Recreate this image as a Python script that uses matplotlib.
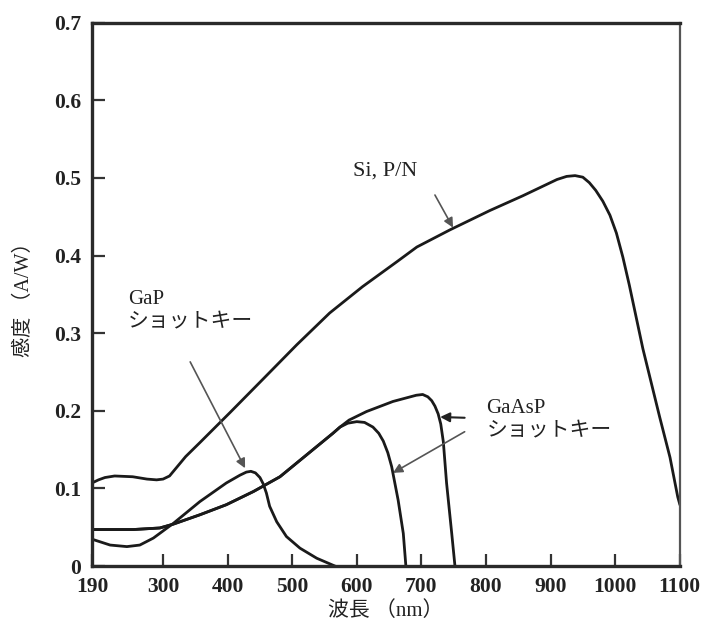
import matplotlib
matplotlib.use('Agg')
import matplotlib.pyplot as plt

# wavelength (nm) / responsivity (A/W)
si_x = [190, 200, 210, 225, 253, 275, 290, 300, 310, 320, 335, 357, 404, 455, 507, 558,
        609, 662, 693, 744, 806, 857, 910, 925, 938, 950, 960, 970, 981, 992, 1002, 1012,
        1022, 1043, 1069, 1085, 1097, 1100]
si_y = [0.107, 0.111, 0.114, 0.116, 0.115, 0.112, 0.111, 0.112, 0.116, 0.126, 0.141, 0.159,
        0.198, 0.241, 0.285, 0.326, 0.360, 0.392, 0.411, 0.433, 0.458, 0.477, 0.498, 0.502,
        0.503, 0.501, 0.494, 0.484, 0.470, 0.452, 0.429, 0.398, 0.362, 0.280, 0.192, 0.140,
        0.089, 0.080]

gap_x = [192, 218, 244, 264, 285, 316, 357, 398, 419, 429, 436, 443, 450, 455, 460, 465,
         476, 491, 512, 538, 566]
gap_y = [0.034, 0.027, 0.025, 0.027, 0.036, 0.055, 0.083, 0.107, 0.117, 0.121, 0.122,
         0.120, 0.114, 0.106, 0.094, 0.077, 0.057, 0.038, 0.023, 0.010, 0.0]

# GaAsP: shared rise, then two branches
gaasp_x = [190, 254, 295, 316, 357, 398, 440, 481, 522, 563, 574]
gaasp_y = [0.047, 0.047, 0.049, 0.054, 0.066, 0.079, 0.096, 0.115, 0.143, 0.171, 0.179]
gaasp1_x = [586, 600, 612, 625, 634, 641, 648, 654, 664, 672, 676]
gaasp1_y = [0.184, 0.186, 0.185, 0.179, 0.171, 0.161, 0.146, 0.128, 0.085, 0.042, 0.0]
gaasp2_x = [588, 615, 656, 692, 702, 710, 716, 721, 726, 730, 734, 739, 747, 752]
gaasp2_y = [0.188, 0.199, 0.212, 0.220, 0.221, 0.218, 0.213, 0.206, 0.196, 0.183, 0.160,
            0.107, 0.042, 0.0]

xticks = [190, 300, 400, 500, 600, 700, 800, 900, 1000, 1100]
yticks = [0, 0.1, 0.2, 0.3, 0.4, 0.5, 0.6, 0.7]
ytick_labels = ['0', '0.1', '0.2', '0.3', '0.4', '0.5', '0.6', '0.7']

jp = ['Liberation Serif', 'Noto Sans CJK JP']
ink = '#1a1a1a'

fig = plt.figure(figsize=(7.08, 6.31), dpi=100)
ax = fig.add_axes([0.130, 0.103, 0.830, 0.861])

lw = 2.0
ax.plot(si_x, si_y, color=ink, lw=lw, solid_joinstyle='round')
ax.plot(gap_x, gap_y, color=ink, lw=lw, solid_joinstyle='round')
ax.plot(gaasp_x + gaasp1_x, gaasp_y + gaasp1_y, color=ink, lw=lw, solid_joinstyle='round')
ax.plot(gaasp_x + gaasp2_x, gaasp_y + gaasp2_y, color=ink, lw=lw, solid_joinstyle='round')

ax.set_xlim(190, 1100)
ax.set_ylim(0, 0.7)
ax.set_xticks(xticks)
ax.set_yticks(yticks)
ax.set_yticklabels(ytick_labels)
ax.tick_params(direction='in', length=9, width=1.6, color='#333333', pad=8,
               top=False, right=False)
for lab in ax.get_xticklabels() + ax.get_yticklabels():
    lab.set_family('Liberation Serif')
    lab.set_weight('bold')
    lab.set_fontsize(15.5)
    lab.set_color('#222222')

for side in ['left', 'top', 'bottom']:
    ax.spines[side].set_linewidth(2.4)
    ax.spines[side].set_color('#2a2a2a')
ax.spines['right'].set_linewidth(1.6)
ax.spines['right'].set_color('#555555')

ax.set_xlabel('波長 （nm）', family=jp, fontsize=15, labelpad=3, color='#222222')
ax.set_ylabel('感度 （A/W）', family=jp, fontsize=14.5, labelpad=14, color='#222222')

# labels and arrows
ax.text(594, 0.509, 'Si, P/N', family=jp, fontsize=16, va='center', color='#222222')
ax.text(246, 0.355, 'GaP\nショットキー', family=jp, fontsize=15, va='top',
        linespacing=1.3, color='#222222')
ax.text(801, 0.215, 'GaAsP\nショットキー', family=jp, fontsize=15, va='top',
        linespacing=1.3, color='#222222')

arrow = dict(arrowstyle='-|>', color='#555555', lw=1.2, mutation_scale=14,
             shrinkA=0, shrinkB=0)
ax.annotate('', xy=(749, 0.436), xytext=(721, 0.478), arrowprops=arrow)
ax.annotate('', xy=(427, 0.126), xytext=(342, 0.263), arrowprops=arrow)
dark = dict(arrow, color='#222222', lw=1.5)
ax.annotate('', xy=(729, 0.192), xytext=(767, 0.191), arrowprops=dark)
ax.annotate('', xy=(656, 0.120), xytext=(767, 0.173), arrowprops=arrow)

fig.savefig('out.png', dpi=100)
plt.close(fig)
